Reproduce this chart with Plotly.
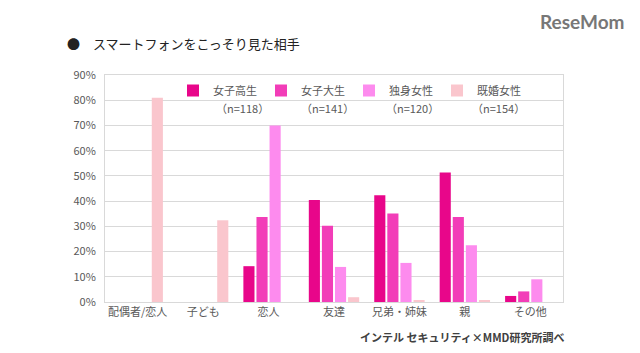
import plotly.graph_objects as go

categories = ["配偶者/恋人", "子ども", "恋人", "友達", "兄弟・姉妹", "親", "その他"]
series_names = ["女子高生", "女子大生", "独身女性", "既婚女性"]
sample_sizes = ["（n=118）", "（n=141）", "（n=120）", "（n=154）"]
v_hs = [None, None, 14.2, 40.4, 42.3, 51.3, 2.4]
v_univ = [None, None, 33.7, 30.2, 35.1, 33.7, 4.2]
v_single = [None, None, 70.0, 13.9, 15.5, 22.5, 9.0]
v_married = [81.0, 32.4, None, 1.9, 0.7, 0.6, None]
colors = ["#e8068a", "#f23db8", "#fd8bee", "#fac6cd"]
yticks = [0, 10, 20, 30, 40, 50, 60, 70, 80, 90]

values = [v_hs, v_univ, v_single, v_married]
font = "Noto Sans CJK JP"

fig = go.Figure()
for name, vals, col in zip(series_names, values, colors):
    fig.add_trace(go.Bar(x=categories, y=vals, name=name, marker_color=col,
                         marker_line_width=0))

PL, PR, PT, PB = 105, 563, 75, 302
W, H = PR - PL, PB - PT

def px(x):
    return (x - PL) / W

def py(y):
    return (PB - y) / H

fig.update_layout(
    width=640, height=353,
    margin=dict(l=PL, r=640 - PR, t=PT, b=353 - PB),
    paper_bgcolor="white", plot_bgcolor="white",
    barmode="group", bargap=0.2, bargroupgap=0.15,
    font=dict(family=font, size=11, color="#595959"),
    showlegend=True,
    legend=dict(orientation="h", x=px(173), y=py(76), xanchor="left", yanchor="top",
                entrywidth=43, entrywidthmode="pixels", itemwidth=30,
                font=dict(size=11, color="#595959", family=font),
                bgcolor="rgba(0,0,0,0)"),
)
fig.update_yaxes(range=[0, 90], tickvals=yticks,
                 ticktext=[f"{t}%" for t in yticks],
                 showgrid=True, gridcolor="#d9d9d9", gridwidth=1,
                 showline=True, linecolor="#d9d9d9", mirror=True,
                 zeroline=False, ticks="", ticklabelstandoff=6,
                 tickfont=dict(size=11, color="#595959"))
fig.update_xaxes(showline=True, linecolor="#d9d9d9", mirror=True,
                 ticks="", tickfont=dict(size=11, color="#595959"))

# n labels under legend entries
n_x = [242, 327, 412, 498]
for nx, ns in zip(n_x, sample_sizes):
    fig.add_annotation(text=ns, x=px(nx), y=py(108), xref="paper", yref="paper",
                       showarrow=False, xanchor="center", yanchor="middle",
                       font=dict(size=11, color="#595959", family=font))

fig.add_annotation(text="●　スマートフォンをこっそり見た相手", x=px(65), y=py(43),
                   xref="paper", yref="paper", showarrow=False,
                   xanchor="left", yanchor="middle",
                   font=dict(size=13, color="#222222", family=font))

fig.add_annotation(text="<b>インテル セキュリティ×MMD研究所調べ</b>",
                   x=px(566), y=py(337),
                   xref="paper", yref="paper", showarrow=False,
                   xanchor="right", yanchor="middle",
                   font=dict(size=11, color="#404040", family=font))

fig.add_annotation(text="<b>ReseMom</b>",
                   x=px(626), y=py(22),
                   xref="paper", yref="paper", showarrow=False,
                   xanchor="right", yanchor="middle",
                   font=dict(size=19, color="#777777", family="Lato"))

fig.write_html("out.html")
